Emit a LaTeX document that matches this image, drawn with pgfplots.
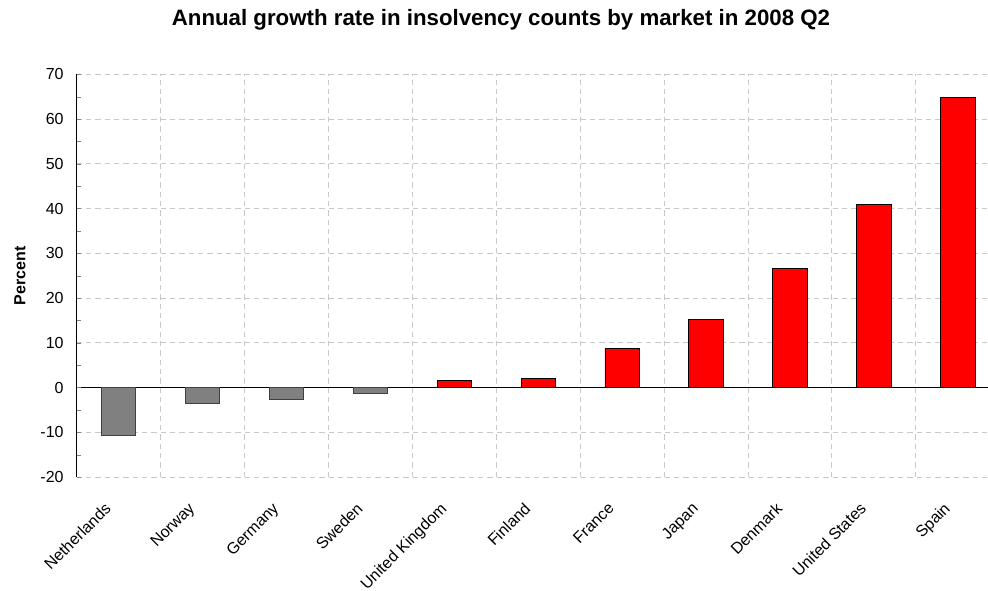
\documentclass[border=0pt]{standalone}
\usepackage{fontspec}
\setmainfont{Liberation Sans}
\usepackage{pgfplots}
\pgfplotsset{compat=1.18}
\definecolor{gridgray}{RGB}{200,200,200}
\definecolor{bargray}{RGB}{128,128,128}
\definecolor{barred}{RGB}{255,0,0}
\begin{document}
\begin{tikzpicture}
\begin{axis}[
  name=ax,
  scale only axis,
  width=683.5pt, height=302pt,
  xmin=-0.5, xmax=10.36,
  ymin=-20, ymax=70,
  axis y line*=left, axis x line*=bottom,
  x axis line style={draw=none},
  y axis line style={black, line width=0.8pt, -},
  ytick={-20,-10,...,70},
  minor y tick num=1,
  tick align=inside,
  major tick length=3.2pt, minor tick length=3.2pt,
  ymajorgrids,
  major grid style={gridgray, dash pattern=on 4pt off 3pt, line width=0.75pt},
  xtick={0,...,10},
  xticklabels={Netherlands,Norway,Germany,Sweden,United Kingdom,Finland,France,Japan,Denmark,United States,Spain},
  x tick label style={rotate=45, anchor=north east, font=\fontsize{12}{14}\selectfont, xshift=-17.5pt, yshift=-1.6pt},
  y tick label style={font=\fontsize{12}{14}\selectfont, xshift=-6.3pt},
  xtick style={draw=none},
  minor xtick={0.5,1.5,...,9.5},
  xminorgrids,
  minor grid style={gridgray, dash pattern=on 4pt off 3pt, line width=0.75pt},
  extra y ticks={0}, extra y tick labels={},
  extra y tick style={grid=major, major grid style={solid, black, line width=0.8pt}},
  /pgf/number format/assume math mode=true,
  title={Annual growth rate in insolvency counts by market in 2008 Q2},
  title style={font=\bfseries\fontsize{16.7}{18}\selectfont, at={(0.4656,1)}, anchor=base, yshift=30.8pt},
  ylabel={Percent},
  ylabel style={font=\bfseries\fontsize{12}{14}\selectfont, at={(axis description cs:-0.0622,0.5)}, anchor=center},
]
\addplot[ybar, bar width=0.41, bar shift=0pt, fill=bargray, draw=black!75, line width=0.6pt]
  coordinates {(0,-10.7) (1,-3.6) (2,-2.7) (3,-1.3)};
\addplot[ybar, bar width=0.41, bar shift=0pt, fill=barred, draw=black, line width=0.6pt]
  coordinates {(4,1.5) (5,2.0) (6,8.7) (7,15.3) (8,26.7) (9,40.9) (10,64.8)};
\end{axis}
\pgfresetboundingbox
\path (ax.south west) ++(-57.5pt,-84.75pt) rectangle ++(741pt,442.5pt);
\end{tikzpicture}
\end{document}
